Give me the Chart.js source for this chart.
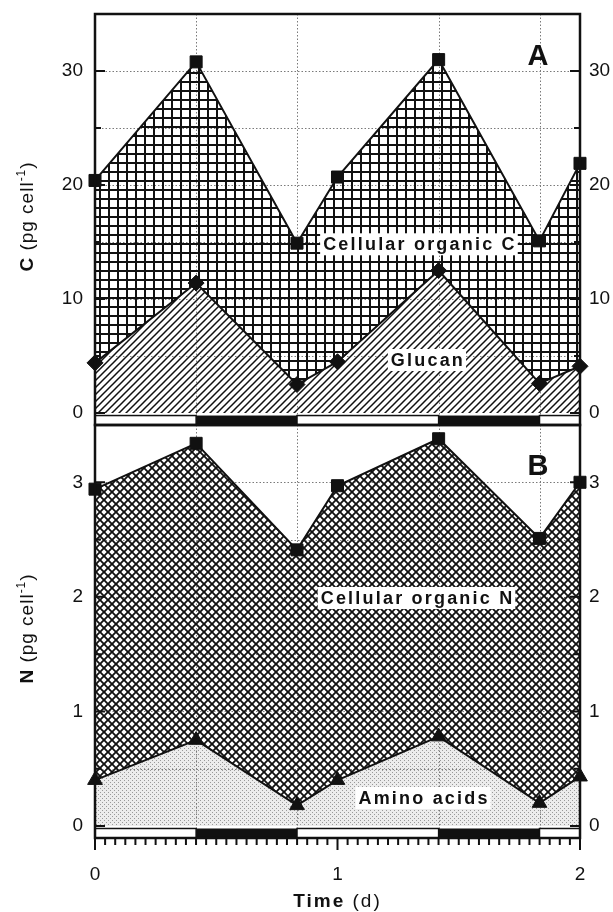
<!DOCTYPE html>
<html>
<head>
<meta charset="utf-8">
<script src="https://cdn.jsdelivr.net/npm/chart.js@4.4.0/dist/chart.umd.min.js"></script>
<style>
    html, body { margin: 0; padding: 0; background: #fff; }
    #wrap { position: relative; width: 613px; height: 912px; }
    #wrap canvas { position: absolute; left: 0; top: 0; }
</style>
</head>
<body>
<div id="wrap">
    <canvas id="chartA" width="613" height="912"></canvas>
    <canvas id="chartB" width="613" height="912"></canvas>
</div>
<script>
// -------------------------------
// Data
// -------------------------------
const times      = [0, 0.417, 0.833, 1.0, 1.417, 1.833, 2.0];   // d
const cellularC  = [20.4, 30.8, 14.9, 20.7, 31.0, 15.1, 21.9];   // pg C cell-1
const glucan     = [4.4, 11.4, 2.5, 4.5, 12.5, 2.6, 4.1];
const cellularN  = [2.94, 3.34, 2.41, 2.97, 3.38, 2.51, 3.00];   // pg N cell-1
const aminoAcids = [0.40, 0.75, 0.18, 0.40, 0.78, 0.20, 0.43];
const darkPeriods = [[0.417, 0.833], [1.417, 1.833]];
const xTicks  = [0, 1, 2];
const yTicksC = [0, 10, 20, 30];
const yTicksN = [0, 1, 2, 3];

const FONT = '"Liberation Sans", Arial, Helvetica, sans-serif';
const INK = '#111';

// -------------------------------
// Fill patterns
// -------------------------------
function makePattern(size, draw) {
    const c = document.createElement('canvas');
    c.width = size; c.height = size;
    const g = c.getContext('2d');
    draw(g, size);
    return g.createPattern(c, 'repeat');
}
const gridFill = makePattern(9, (g, s) => {
    g.fillStyle = '#fff'; g.fillRect(0, 0, s, s);
    g.fillStyle = INK; g.fillRect(0, 0, s, 2); g.fillRect(0, 0, 2, s);
});
const hatchFill = makePattern(7, (g, s) => {
    g.fillStyle = '#fff'; g.fillRect(0, 0, s, s);
    g.strokeStyle = INK; g.lineWidth = 1.5;
    g.beginPath();
    g.moveTo(-1, s + 1); g.lineTo(s + 1, -1);
    g.moveTo(-1, 1); g.lineTo(1, -1);
    g.moveTo(s - 1, s + 1); g.lineTo(s + 1, s - 1);
    g.stroke();
});
const diamondFill = makePattern(8, (g, s) => {
    g.fillStyle = INK; g.fillRect(0, 0, s, s);
    g.fillStyle = '#fff';
    const d = 2.7;
    [[s / 2, s / 2], [0, 0], [s, 0], [0, s], [s, s]].forEach(([cx, cy]) => {
        g.beginPath();
        g.moveTo(cx, cy - d); g.lineTo(cx + d, cy); g.lineTo(cx, cy + d); g.lineTo(cx - d, cy);
        g.closePath(); g.fill();
    });
});
const stippleFill = makePattern(4, (g, s) => {
    g.fillStyle = '#ececec'; g.fillRect(0, 0, s, s);
    g.fillStyle = '#999'; g.fillRect(0, 0, 1, 1); g.fillRect(2, 2, 1, 1);
});

// -------------------------------
// Helpers
// -------------------------------
function pts(values) {
    return times.map((t, i) => ({ x: t, y: values[i] }));
}

function series(label, values, fillPattern, pointStyle, radius) {
    return {
        label, data: pts(values),
        borderColor: INK, borderWidth: 2,
        backgroundColor: fillPattern, fill: 'origin',
        pointStyle, pointRadius: radius,
        pointBackgroundColor: INK, pointBorderColor: INK, pointBorderWidth: 1,
        tension: 0, clip: false
    };
}

function richText(ctx, parts, cx, cy, rotate, spacing) {
    ctx.save();
    ctx.translate(cx, cy);
    if (rotate) ctx.rotate(-Math.PI / 2);
    ctx.textBaseline = 'middle'; ctx.textAlign = 'left';
    ctx.fillStyle = INK;
    ctx.letterSpacing = spacing || '0px';
    let total = 0;
    parts.forEach(p => { ctx.font = p.font; total += ctx.measureText(p.t).width; });
    let x = -total / 2;
    parts.forEach(p => {
        ctx.font = p.font;
        ctx.fillText(p.t, x, p.dy || 0);
        x += ctx.measureText(p.t).width;
    });
    ctx.restore();
}

function boxedLabel(ctx, text, px, py) {
    ctx.save();
    ctx.font = 'bold 18px ' + FONT;
    ctx.letterSpacing = '2.2px';
    const w = ctx.measureText(text).width;
    ctx.fillStyle = '#fff';
    ctx.fillRect(px - w / 2 - 3, py - 11, w + 4, 22);
    ctx.fillStyle = INK; ctx.textAlign = 'left'; ctx.textBaseline = 'middle';
    ctx.fillText(text, px - w / 2, py + 1);
    ctx.restore();
}

// -------------------------------
// Decorations: frame, ticks, grid, light/dark bar, labels
// -------------------------------
function decorPlugin(p) {
    return {
        id: 'decor' + p.name,
        afterDatasetsDraw(chart) {
            const ctx = chart.ctx, a = chart.chartArea;
            const x = chart.scales.x, y = chart.scales.y;

            // dotted grid
            ctx.save();
            ctx.globalCompositeOperation = 'darken';
            ctx.strokeStyle = '#7a7a7a'; ctx.lineWidth = 1; ctx.setLineDash([1.5, 2]);
            ctx.beginPath();
            for (let k = 1; k * p.minorStep < y.max - 1e-6; k++) {
                const py = Math.round(y.getPixelForValue(k * p.minorStep)) + 0.5;
                ctx.moveTo(a.left, py); ctx.lineTo(a.right, py);
            }
            darkPeriods.flat().forEach(t => {
                const px = Math.round(x.getPixelForValue(t)) + 0.5;
                ctx.moveTo(px, a.top); ctx.lineTo(px, a.bottom);
            });
            ctx.stroke();
            ctx.restore();

            // light / dark bar
            ctx.save();
            const bt = y.getPixelForValue(p.barTop), bb = a.bottom;
            const segs = [];
            let prev = x.min;
            darkPeriods.forEach(([s, e]) => { segs.push([prev, s, false]); segs.push([s, e, true]); prev = e; });
            segs.push([prev, x.max, false]);
            segs.forEach(([s, e, dark]) => {
                const x0 = x.getPixelForValue(s), x1 = x.getPixelForValue(e);
                if (dark) {
                    ctx.fillStyle = INK; ctx.fillRect(x0, bt, x1 - x0, bb - bt);
                } else {
                    ctx.fillStyle = '#fff'; ctx.fillRect(x0, bt, x1 - x0, bb - bt);
                    ctx.strokeStyle = INK; ctx.lineWidth = 1.5; ctx.strokeRect(x0, bt, x1 - x0, bb - bt);
                }
            });
            ctx.restore();

            // frame + inward ticks
            ctx.save();
            ctx.strokeStyle = INK; ctx.lineWidth = 2.5;
            ctx.strokeRect(a.left, a.top, a.right - a.left, a.bottom - a.top);
            ctx.lineWidth = 2;
            ctx.beginPath();
            for (let k = 0; k * p.minorStep < y.max - 1e-6; k++) {
                const v = k * p.minorStep;
                const py = y.getPixelForValue(v);
                const len = (k % 2 === 0) ? 10 : 6;
                ctx.moveTo(a.left, py); ctx.lineTo(a.left + len, py);
                ctx.moveTo(a.right, py); ctx.lineTo(a.right - len, py);
            }
            if (p.hourTicks) {
                for (let h = 0; h <= 48; h++) {
                    const px = x.getPixelForValue(h / 24);
                    const len = (h % 24 === 0) ? 12 : 7;
                    ctx.moveTo(px, a.bottom); ctx.lineTo(px, a.bottom + len);
                }
            }
            ctx.stroke();
            ctx.restore();

            // in-plot labels
            p.labels.forEach(l => boxedLabel(ctx, l.text, x.getPixelForValue(l.x), y.getPixelForValue(l.y)));
            ctx.save();
            ctx.font = 'bold 29px ' + FONT;
            ctx.fillStyle = INK; ctx.textAlign = 'center'; ctx.textBaseline = 'middle';
            ctx.fillText(p.letter.text, x.getPixelForValue(p.letter.x), y.getPixelForValue(p.letter.y));
            ctx.restore();

            // axis titles
            richText(ctx, [
                { t: p.yTitle, font: 'bold 19px ' + FONT },
                { t: ' (pg cell', font: '19px ' + FONT },
                { t: '-1', font: '12px ' + FONT, dy: -6 },
                { t: ')', font: '19px ' + FONT }
            ], 28, (a.top + a.bottom) / 2 - 3, true, '1px');
            if (p.xTitle) {
                richText(ctx, [
                    { t: 'Time', font: 'bold 19px ' + FONT },
                    { t: ' (d)', font: '19px ' + FONT }
                ], (a.left + a.right) / 2, 902, false, '2px');
            }
        }
    };
}

// -------------------------------
// Chart builder
// -------------------------------
function yAxis(pos, min, max, ticks) {
    return {
        type: 'linear', position: pos, min, max,
        afterFit: s => {
            s.width = pos === 'left' ? 95 : 33;
            s.paddingTop = 0; s.paddingBottom = 0;
        },
        afterBuildTicks: s => { s.ticks = ticks.map(v => ({ value: v })); },
        ticks: { font: { family: FONT, size: 19 }, color: INK, padding: pos === 'left' ? 12 : 9 },
        grid: { display: false, drawTicks: false },
        border: { display: false }
    };
}

function buildChart(id, datasets, yMin, yMax, yTicks, showX, decor) {
    const xScale = {
        type: 'linear', min: 0, max: 2, display: showX,
        afterFit: s => {
            s.height = showX ? 74 : 0;
            s.paddingLeft = 0; s.paddingRight = 0;
        },
        afterBuildTicks: s => { s.ticks = xTicks.map(v => ({ value: v })); },
        ticks: { font: { family: FONT, size: 19 }, color: INK, padding: 25, maxRotation: 0, autoSkip: false },
        grid: { display: false, drawTicks: false },
        border: { display: false }
    };
    return new Chart(document.getElementById(id), {
        type: 'line',
        data: { datasets },
        options: {
            responsive: false,
            animation: false,
            events: [],
            layout: { padding: showX ? { top: 425, bottom: 0, left: 0, right: 0 } : { top: 14, bottom: 487, left: 0, right: 0 } },
            scales: {
                x: xScale,
                y: yAxis('left', yMin, yMax, yTicks),
                yR: yAxis('right', yMin, yMax, yTicks)
            },
            plugins: { legend: { display: false }, tooltip: { enabled: false } }
        },
        plugins: [decorPlugin(decor)]
    });
}

// Panel A: carbon
buildChart('chartA', [
    series('Glucan', glucan, hatchFill, 'rectRot', 8),
    series('Cellular organic C', cellularC, gridFill, 'rect', 8.5)
], -1.05, 35, yTicksC, false, {
    name: 'A', minorStep: 5, barTop: -0.22, hourTicks: false, xTitle: false, yTitle: 'C',
    letter: { text: 'A', x: 1.827, y: 31.2 },
    labels: [
        { text: 'Cellular organic C', x: 1.34, y: 14.8 },
        { text: 'Glucan', x: 1.373, y: 4.65 }
    ]
});

// Panel B: nitrogen
buildChart('chartB', [
    series('Amino acids', aminoAcids, stippleFill, 'triangle', 8.5),
    series('Cellular organic N', cellularN, diamondFill, 'rect', 8.5)
], -0.105, 3.5, yTicksN, true, {
    name: 'B', minorStep: 0.5, barTop: -0.022, hourTicks: true, xTitle: true, yTitle: 'N',
    letter: { text: 'B', x: 1.827, y: 3.13 },
    labels: [
        { text: 'Cellular organic N', x: 1.33, y: 1.99 },
        { text: 'Amino acids', x: 1.357, y: 0.244 }
    ]
});
</script>
</body>
</html>
